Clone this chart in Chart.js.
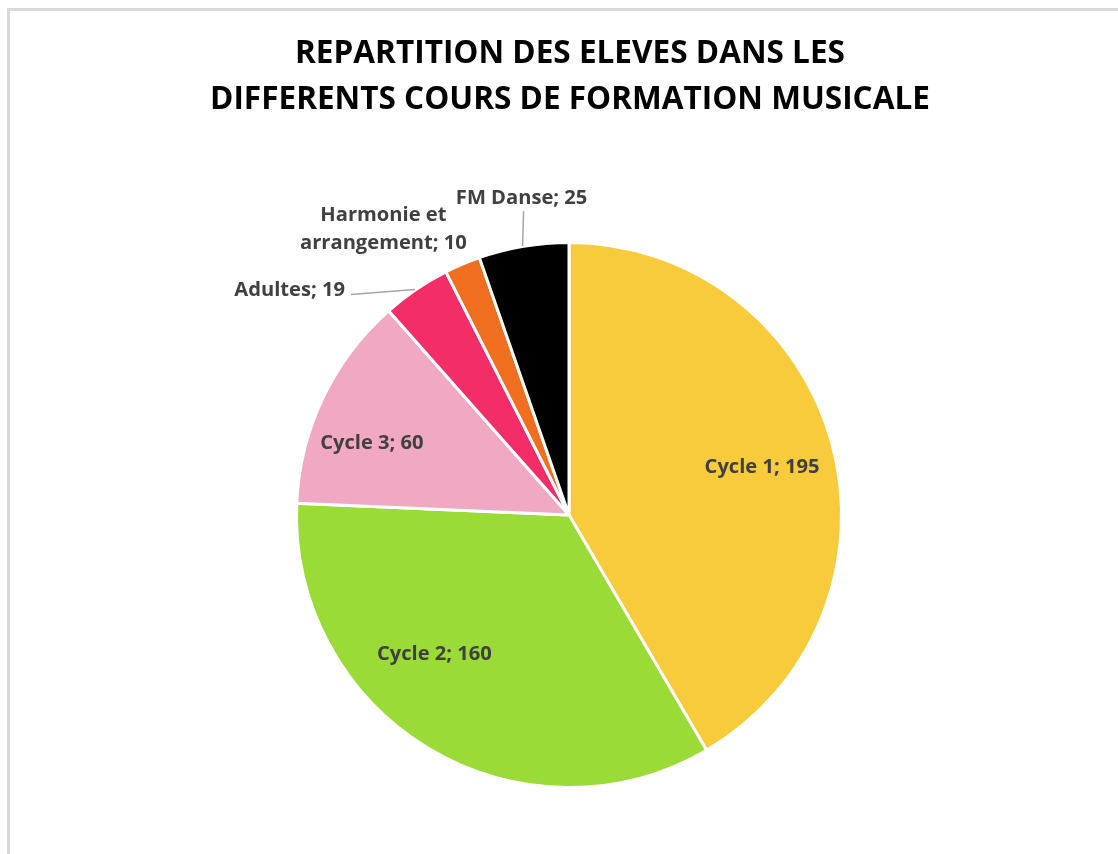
<!DOCTYPE html>
<html>
<head>
<meta charset="utf-8">
<script src="https://cdn.jsdelivr.net/npm/chart.js@4"></script>
<style>
  html, body { margin: 0; padding: 0; background: #ffffff; }
  #frame { position: absolute; left: 7px; top: 8px; width: 1200px; height: 900px;
           border-left: 3px solid #d9d9d9; border-top: 3px solid #d9d9d9; box-sizing: border-box; }
  #wrap { position: absolute; left: 0; top: 0; width: 1118px; height: 854px; }
</style>
</head>
<body>
<div id="frame"></div>
<div id="wrap"><canvas id="c" width="1118" height="854"></canvas></div>
<script>
const titleLines = ["REPARTITION DES ELEVES DANS LES", "DIFFERENTS COURS DE FORMATION MUSICALE"];
const categories = ["Cycle 1", "Cycle 2", "Cycle 3", "Adultes", "Harmonie et arrangement", "FM Danse"];
const values = [195, 160, 60, 19, 10, 25];
const colors = ["#F8CB3D", "#9BDB37", "#F0A8C3", "#F22D68", "#F06E20", "#000000"];
const labelLines = [["Cycle 1; 195"], ["Cycle 2; 160"], ["Cycle 3; 60"], ["Adultes; 19"], ["Harmonie et", "arrangement; 10"], ["FM Danse; 25"]];

// label layout (styles): inside -> angle shift (deg) + radius factor; outside -> offset from rim midpoint
const labelLayout = [
  { type: "in", dAng: 1.2, rf: 0.73 },
  { type: "in", dAng: 13, rf: 0.71 },
  { type: "in", dAng: -5.5, rf: 0.77 },
  { type: "out", dx: -71, dy: 1, align: "right", line: true, lx: -65, ly: 5 },
  { type: "out", dx: -79, dy: -35, align: "center", line: false },
  { type: "out", dx: -2, dy: -48, align: "center", line: true, lx: 0, ly: -35 }
];

const FONT = "'Open Sans', 'DejaVu Sans', sans-serif";

function fitFont(ctx, text, targetW, base) {
  ctx.font = "bold " + base + "px " + FONT;
  const w = ctx.measureText(text).width;
  return base * targetW / w;
}

const labelPlugin = {
  id: "labelsAndTitle",
  afterDraw(chart) {
    const ctx = chart.ctx;
    ctx.save();
    // title
    const ts = fitFont(ctx, titleLines[1], 720, 30);
    ctx.font = "bold " + ts.toFixed(2) + "px " + FONT;
    ctx.fillStyle = "#000000";
    ctx.textAlign = "center";
    ctx.textBaseline = "middle";
    ctx.fillText(titleLines[0], 570, 54);
    ctx.fillText(titleLines[1], 570, 100);

    // data labels
    const ls = fitFont(ctx, "Cycle 1; 195", 115, 18);
    ctx.font = "bold " + ls.toFixed(2) + "px " + FONT;
    ctx.fillStyle = "#404040";
    const meta = chart.getDatasetMeta(0);
    meta.data.forEach((arc, i) => {
      const p = arc.getProps(["x", "y", "startAngle", "endAngle", "outerRadius"], true);
      const mid = (p.startAngle + p.endAngle) / 2;
      const L = labelLayout[i];
      const lines = labelLines[i];
      const lh = 28;
      if (L.type === "in") {
        const a = mid + L.dAng * Math.PI / 180;
        const x = p.x + Math.cos(a) * p.outerRadius * L.rf;
        const y = p.y + Math.sin(a) * p.outerRadius * L.rf;
        ctx.textAlign = "center";
        lines.forEach((t, k) => ctx.fillText(t, x, y + (k - (lines.length - 1) / 2) * lh));
      } else {
        const rx = p.x + Math.cos(mid) * p.outerRadius;
        const ry = p.y + Math.sin(mid) * p.outerRadius;
        if (L.line) {
          ctx.strokeStyle = "#a6a6a6";
          ctx.lineWidth = 1.5;
          ctx.beginPath();
          ctx.moveTo(rx - 1, ry);
          ctx.lineTo(rx + L.lx, ry + L.ly);
          ctx.stroke();
        }
        ctx.textAlign = L.align;
        const x = rx + L.dx, y = ry + L.dy;
        lines.forEach((t, k) => ctx.fillText(t, x, y + (k - (lines.length - 1) / 2) * lh));
      }
    });
    ctx.restore();
  }
};

new Chart(document.getElementById("c"), {
  type: "pie",
  data: {
    labels: categories,
    datasets: [{
      data: values,
      backgroundColor: colors,
      borderColor: "#ffffff",
      borderWidth: 3,
      hoverOffset: 0
    }]
  },
  options: {
    responsive: false,
    animation: false,
    layout: { padding: { top: 241, bottom: 65, left: 295, right: 275 } },
    plugins: {
      legend: { display: false },
      tooltip: { enabled: false },
      title: { display: false }
    }
  },
  plugins: [labelPlugin]
});
</script>
</body>
</html>
